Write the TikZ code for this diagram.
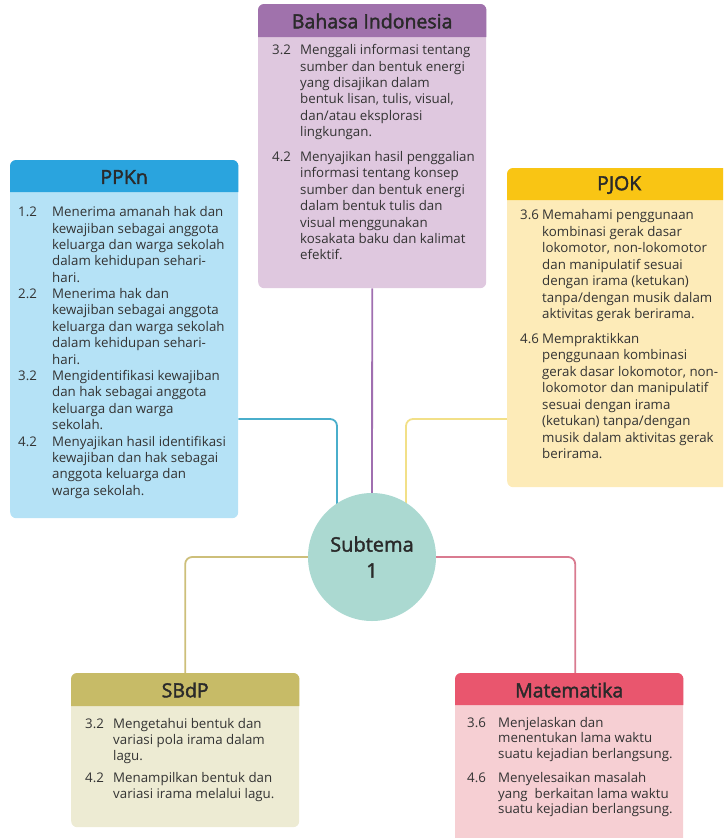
\documentclass[tikz,border=0pt]{standalone}
\usepackage{fontspec}
\setmainfont{Open Sans}
\newfontfamily\headfont[FakeBold=2]{Open Sans}
\usetikzlibrary{backgrounds,calc}
\definecolor{txtcol}{HTML}{333333}
\definecolor{titlecol}{HTML}{2A2A2A}
\definecolor{biHead}{HTML}{A072AC}
\definecolor{biBody}{HTML}{DFC8DF}
\definecolor{ppHead}{HTML}{2AA4DE}
\definecolor{ppBody}{HTML}{B5E2F6}
\definecolor{pjHead}{HTML}{F9C514}
\definecolor{pjBody}{HTML}{FDEBB8}
\definecolor{sbHead}{HTML}{C7BB67}
\definecolor{sbBody}{HTML}{EDEBD3}
\definecolor{maHead}{HTML}{E9566E}
\definecolor{maBody}{HTML}{F6CFD3}
\definecolor{hubFill}{HTML}{ABD9D1}
\definecolor{cBlue}{HTML}{4AAECB}
\definecolor{cPurple}{HTML}{A06FB0}
\definecolor{cYellow}{HTML}{F2E088}
\definecolor{cOlive}{HTML}{CDBF7A}
\definecolor{cPink}{HTML}{D97B90}
\tikzset{
  boxbody/.style={rounded corners=6pt, inner sep=0pt, anchor=north west},
  headtitle/.style={font=\headfont\fontsize{19.5}{21}\selectfont, text=titlecol, inner sep=0pt},
  bodytext/.style={font=\fontsize{13.3}{15.5}\selectfont, text=txtcol, inner sep=0pt, anchor=north west, align=left},
  conn/.style={line width=1.8pt, rounded corners=7pt},
  hub/.style={circle, fill=hubFill, minimum size=128pt, inner sep=0pt, align=center,
    font=\headfont\fontsize{20}{26}\selectfont, text=titlecol}
}
\newcommand{\headband}[3]{%
  \fill[#2] ([yshift=-#3]#1.north west) [rounded corners=6pt] -- (#1.north west) -- (#1.north east) [sharp corners] -- ([yshift=-#3]#1.north east) -- cycle;}
\begin{document}
\begin{tikzpicture}[x=1pt,y=-1pt]
\useasboundingbox (0,0) rectangle (723,838);
\clip (0,0) rectangle (723,838);

% Bahasa Indonesia
\node[boxbody, fill=biBody, minimum width=228pt, minimum height=284pt] (bi) at (258,4) {};
\headband{bi}{biHead}{33pt}
\node[headtitle] (bit) at ($(bi.north)+(0,17)$) {Bahasa Indonesia};
\node[bodytext] (bix) at (272,43) {\renewcommand{\arraystretch}{1.06}\begin{tabular}{@{}p{28pt}@{}l@{}}
3.2 & Menggali informasi tentang\\
 & sumber dan bentuk energi\\
 & yang disajikan dalam\\
 & bentuk lisan, tulis, visual,\\
 & dan/atau eksplorasi\\
 & lingkungan.\\[8pt]
4.2 & Menyajikan hasil penggalian\\
 & informasi tentang konsep\\
 & sumber dan bentuk energi\\
 & dalam bentuk tulis dan\\
 & visual menggunakan\\
 & kosakata baku dan kalimat\\
 & efektif.
\end{tabular}};

% PPKn
\node[boxbody, fill=ppBody, minimum width=228pt, minimum height=358pt] (pp) at (10,160) {};
\headband{pp}{ppHead}{32pt}
\node[headtitle] (ppt) at ($(pp.north)+(0,17)$) {PPKn};
\node[bodytext] (ppx) at (18,205) {\renewcommand{\arraystretch}{1.057}\begin{tabular}{@{}p{34pt}@{}l@{}}
1.2 & Menerima amanah hak dan\\
 & kewajiban sebagai anggota\\
 & keluarga dan warga sekolah\\
 & dalam kehidupan sehari-\\
 & hari.\\
2.2 & Menerima hak dan\\
 & kewajiban sebagai anggota\\
 & keluarga dan warga sekolah\\
 & dalam kehidupan sehari-\\
 & hari.\\
3.2 & Mengidentifikasi kewajiban\\
 & dan hak sebagai anggota\\
 & keluarga dan warga\\
 & sekolah.\\
4.2 & Menyajikan hasil identifikasi\\
 & kewajiban dan hak sebagai\\
 & anggota keluarga dan\\
 & warga sekolah.
\end{tabular}};

% PJOK
\node[boxbody, fill=pjBody, minimum width=224pt, minimum height=319pt] (pj) at (507,168) {};
\headband{pj}{pjHead}{32pt}
\node[headtitle] (pjt) at ($(pj.north)+(0,17)$) {PJOK};
\node[bodytext] (pjx) at (520,208) {\renewcommand{\arraystretch}{1.065}\begin{tabular}{@{}p{22pt}@{}l@{}}
3.6 & Memahami penggunaan\\
 & kombinasi gerak dasar\\
 & lokomotor, non-lokomotor\\
 & dan manipulatif sesuai\\
 & dengan irama (ketukan)\\
 & tanpa/dengan musik dalam\\
 & aktivitas gerak berirama.\\[8pt]
4.6 & Mempraktikkan\\
 & penggunaan kombinasi\\
 & gerak dasar lokomotor, non-\\
 & lokomotor dan manipulatif\\
 & sesuai dengan irama\\
 & (ketukan) tanpa/dengan\\
 & musik dalam aktivitas gerak\\
 & berirama.
\end{tabular}};

% SBdP
\node[boxbody, fill=sbBody, minimum width=228pt, minimum height=154pt] (sb) at (71,673) {};
\headband{sb}{sbHead}{33pt}
\node[headtitle] (sbt) at ($(sb.north)+(0,17)$) {SBdP};
\node[bodytext] (sbx) at (85,717) {\renewcommand{\arraystretch}{1.03}\begin{tabular}{@{}p{28pt}@{}l@{}}
3.2 & Mengetahui bentuk dan\\
 & variasi pola irama dalam\\
 & lagu.\\[6pt]
4.2 & Menampilkan bentuk dan\\
 & variasi irama melalui lagu.
\end{tabular}};

% Matematika
\node[boxbody, fill=maBody, minimum width=228pt, minimum height=180pt] (ma) at (455,673) {};
\headband{ma}{maHead}{32pt}
\node[headtitle] (mat) at ($(ma.north)+(0,17)$) {Matematika};
\node[bodytext] (max) at (467,716) {\begin{tabular}{@{}p{31pt}@{}l@{}}
3.6 & Menjelaskan dan\\
 & menentukan lama waktu\\
 & suatu kejadian berlangsung.\\[9pt]
4.6 & Menyelesaikan masalah\\
 & yang\ \ berkaitan lama waktu\\
 & suatu kejadian berlangsung.
\end{tabular}};

% Hub
\node[hub] (hub) at (372,557) {Subtema\\1};

% Connectors
\begin{scope}[on background layer]
\draw[conn, cBlue] (pp.east |- 0,419) -| ([xshift=-35pt]hub.center);
\draw[conn, cPurple] (bi.south) -- (hub.center);
\draw[conn, cYellow] (pj.west |- 0,419) -| ([xshift=34pt]hub.center);
\draw[conn, cOlive] (hub.center) -| (sb.north);
\draw[conn, cPink] (hub.center) -| ([xshift=6pt]ma.north);
\end{scope}
\end{tikzpicture}
\end{document}
